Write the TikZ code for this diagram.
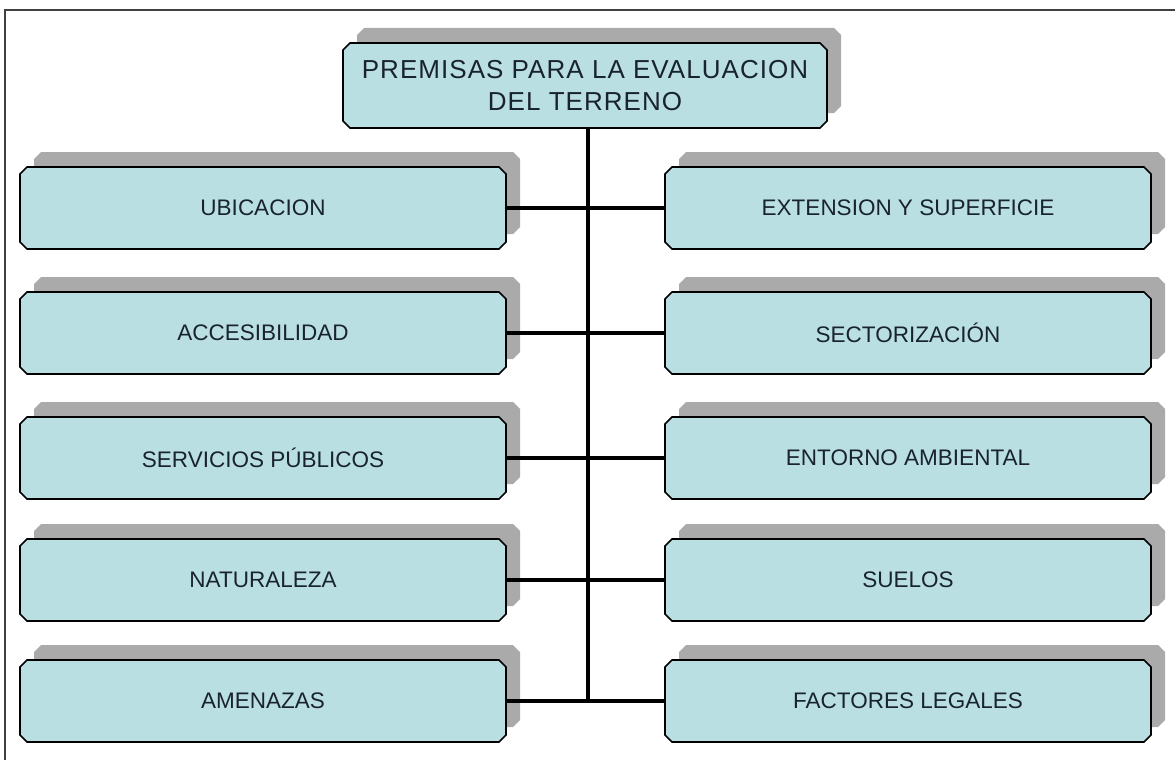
\documentclass[tikz,border=0pt]{standalone}
\usepackage{fontspec}
\setmainfont{Liberation Sans}
\usetikzlibrary{shapes.misc,shadows}
\definecolor{boxfill}{RGB}{185,223,227}
\definecolor{txt}{RGB}{25,35,45}
\definecolor{shade}{RGB}{170,170,170}
\begin{document}
\begin{tikzpicture}[x=1pt,y=-1pt,
  box/.style={chamfered rectangle, chamfered rectangle xsep=3.5pt, chamfered rectangle ysep=3.5pt,
    draw=black, line width=1.6pt, fill=boxfill, minimum width=486pt, minimum height=82pt,
    inner sep=0pt, text=txt, font=\fontsize{22.5}{26}\selectfont,
    general shadow={fill=shade, shadow xshift=14pt, shadow yshift=15pt}},
  titlebox/.style={box, minimum width=484pt, minimum height=85pt, align=center,
    font=\fontsize{26}{32}\selectfont\addfontfeature{LetterSpace=4}},
  conn/.style={line width=3.2pt, black},
  frame/.style={line width=1.5pt, black!75}]
\useasboundingbox (0,0) rectangle (1175,760);
\draw[frame] (5,760) -- (5,10) -- (1175,10);

\node[titlebox] (top) at (585,85.5) {PREMISAS PARA LA EVALUACION\\DEL TERRENO};

\node[box] (L1) at (263,208) {UBICACION};
\node[box] (L2) at (263,333) {ACCESIBILIDAD};
\node[box] (L3) at (263,458) {SERVICIOS PÚBLICOS};
\node[box] (L4) at (263,580) {NATURALEZA};
\node[box] (L5) at (263,701) {AMENAZAS};

\node[box] (R1) at (908,208) {EXTENSION Y SUPERFICIE};
\node[box] (R2) at (908,333) {SECTORIZACIÓN};
\node[box] (R3) at (908,458) {ENTORNO AMBIENTAL};
\node[box] (R4) at (908,580) {SUELOS};
\node[box] (R5) at (908,701) {FACTORES LEGALES};

\coordinate (trunkend) at (588,701);
\draw[conn] (top.south -| trunkend) -- (trunkend);
\foreach \i in {1,...,5} {
  \draw[conn] (L\i.east) -- (R\i.west);
}
\end{tikzpicture}
\end{document}
